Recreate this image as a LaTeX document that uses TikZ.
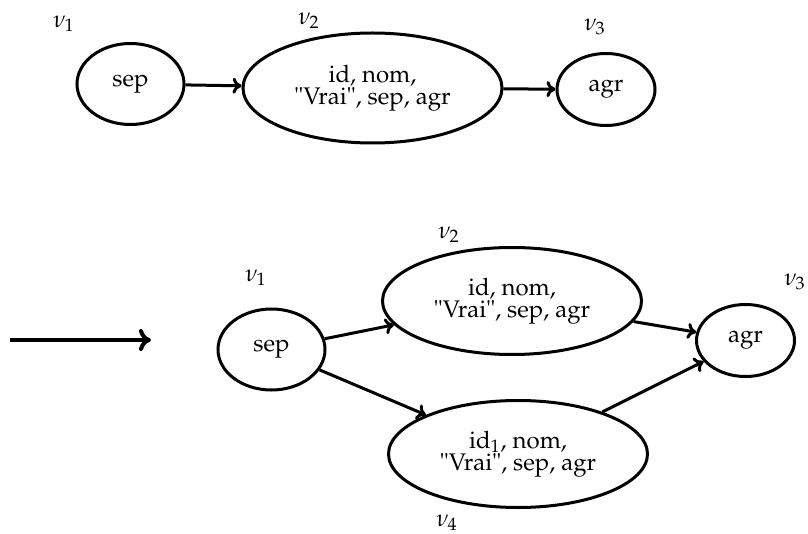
\documentclass[tikz,border=0pt]{standalone}
\usepackage[T1]{fontenc}
\usepackage{mathpazo}
\usepackage{amsmath}
\usetikzlibrary{shapes.geometric, arrows.meta}

\begin{document}
\begin{tikzpicture}[x=0.5pt, y=-0.5pt,
  every node/.style={font=\fontsize{12}{11.2}\selectfont},
  vtx/.style={draw, ellipse, line width=1.5pt, inner sep=0pt, align=center},
  sepv/.style={vtx, minimum width=53.5pt, minimum height=40.5pt},
  agrv/.style={vtx, minimum width=49pt, minimum height=36pt},
  bigv/.style={vtx, minimum width=129.5pt, minimum height=53.5pt,
    execute at begin node={\rule{0pt}{15pt}}},
  edge/.style={line width=1.5pt, -{Computer Modern Rightarrow[length=4.5pt, width=8pt]}}]

\useasboundingbox (0,0) rectangle (808,534);

\node[sepv] (t1) at (130.5,84) {sep};
\node[bigv, minimum height=55pt] (t2) at (372.5,88) {id, nom,\\"Vrai", sep, agr};
\node[agrv] (t3) at (606,89.5) {agr};

\node (t1lab) at (64,24) {$\nu_1$};
\node (t2lab) at (309,21) {$\nu_2$};
\node (t3lab) at (595,27) {$\nu_3$};

\draw [edge] (t1) -- (t2);
\draw [edge] (t2) -- (t3);

\coordinate (from) at (10,340);
\coordinate (to) at (151,340);
\draw [line width=2pt, -{Computer Modern Rightarrow[length=6pt, width=11pt]}] (from) -- (to);

\node[sepv] (b1) at (271.5,349.5) {sep};
\node[bigv] (b2) at (512,301) {id, nom,\\"Vrai", sep, agr};
\node[agrv] (b3) at (745.5,340.5) {agr};
\node[bigv] (b4) at (518,454) {id$_1$, nom,\\"Vrai", sep, agr};

\node (b1lab) at (256,278) {$\nu_1$};
\node (b2lab) at (449,235) {$\nu_2$};
\node (b3lab) at (795,282) {$\nu_3$};
\node (b4lab) at (447,523) {$\nu_4$};

\draw [edge] (b1) -- (b2);
\draw [edge] (b1) -- (b4);
\draw [edge] (b2) -- (b3);
\draw [edge] (b4) -- (b3);

\end{tikzpicture}
\end{document}
